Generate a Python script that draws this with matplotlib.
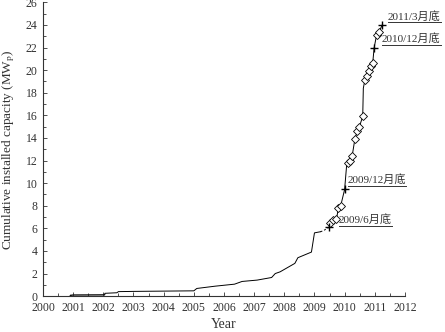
import numpy as np
import matplotlib
matplotlib.use("Agg")
import matplotlib.pyplot as plt
from matplotlib.ticker import MultipleLocator

plt.rcParams['font.family'] = ['Liberation Serif', 'Noto Sans CJK TC']
plt.rcParams['mathtext.fontset'] = 'stix'

# main cumulative curve (solid part up to early 2009)
year_a = [2000.9, 2001.0, 2002.05, 2002.05, 2002.45, 2002.5, 2003.0, 2005.0, 2005.1,
          2005.7, 2006.35, 2006.6, 2007.1, 2007.58, 2007.7, 2007.86, 2008.35, 2008.45,
          2008.9, 2009.0, 2009.2]
cap_a = [0.05, 0.1, 0.12, 0.25, 0.3, 0.4, 0.42, 0.47, 0.68,
         0.88, 1.06, 1.3, 1.42, 1.65, 2.0, 2.15, 2.9, 3.4,
         3.9, 5.6, 5.7]

# dashed gap
year_gap = [2009.2, 2009.3, 2009.49]
cap_gap = [5.7, 5.8, 6.1]

# monthly data from mid 2009
year_b = [2009.49, 2009.51, 2009.62, 2009.73, 2009.79, 2009.87, 2010.0, 2010.07, 2010.1,
          2010.18, 2010.25, 2010.34, 2010.42, 2010.49, 2010.6, 2010.62, 2010.67, 2010.75,
          2010.81, 2010.89, 2010.93, 2010.98, 2011.06, 2011.14, 2011.25]
cap_b = [6.1, 6.43, 6.73, 6.8, 7.76, 8.0, 9.44, 11.7, 11.8,
         12.0, 12.4, 13.9, 14.6, 15.0, 15.9, 18.4, 19.1, 19.5,
         19.9, 20.4, 20.6, 22.0, 23.1, 23.4, 24.0]
diamond_idx = [1, 2, 3, 4, 5, 8, 9, 10, 11, 12, 13, 14, 16, 17, 18, 19, 20, 22, 23]
plus_idx = [0, 6, 21, 24]

# milestone labels
labels = ['2009/6月底', '2009/12月底', '2010/12月底', '2011/3月底']
label_x = [2009.81, 2010.11, 2011.24, 2011.43]
label_y = [6.8, 10.3, 22.8, 24.8]

fig = plt.figure(figsize=(4.45, 3.32), dpi=100)
ax = fig.add_axes([0.0966, 0.108, 0.8134, 0.885])

ax.fill_between([2000.9, 2002.05], 0.02, 0.15, color='#b0b0b0', lw=0)
ax.plot(year_a, cap_a, color='black', lw=0.7)
ax.plot(year_gap, cap_gap, color='black', lw=0.7, dashes=(2, 2))
ax.plot(year_b, cap_b, color='black', lw=0.7)
ax.plot([year_b[i] for i in diamond_idx], [cap_b[i] for i in diamond_idx], 'D',
        ms=3.7, mfc='white', mec='black', mew=0.6, ls='none')
ax.plot([year_b[i] for i in plus_idx], [cap_b[i] for i in plus_idx], '+',
        ms=6, color='black', mew=1.0, ls='none')

texts = []
for s, x, y in zip(labels, label_x, label_y):
    texts.append(ax.text(x, y, s, fontsize=8, color='#333333', va='center', ha='left'))

ax.set_xlim(2000, 2012)
ax.set_ylim(0, 26)
ax.xaxis.set_major_locator(MultipleLocator(1))
ax.xaxis.set_minor_locator(MultipleLocator(0.5))
ax.yaxis.set_major_locator(MultipleLocator(2))
ax.yaxis.set_minor_locator(MultipleLocator(1))
ax.tick_params(which='both', direction='in', labelsize=8.5, colors='#333333', width=0.6)
ax.tick_params(which='major', length=3, pad=4)
ax.tick_params(which='minor', length=2)
for side in ['top', 'right']:
    ax.spines[side].set_visible(False)
for side in ['left', 'bottom']:
    ax.spines[side].set_linewidth(0.8)
    ax.spines[side].set_color('#333333')

ax.set_xlabel('Year', fontsize=10, color='#333333', labelpad=3)
ax.set_ylabel('Cumulative installed capacity (MW$_\\mathrm{p}$)', fontsize=9.5,
              color='#333333', labelpad=6)

# underline the milestone labels
fig.canvas.draw()
inv = ax.transData.inverted()
for t in texts:
    bb = t.get_window_extent()
    (x0, y0), (x1, y1) = inv.transform([[bb.x0, bb.y0], [bb.x1, bb.y1]])
    ax.plot([x0, x1], [y0 - 0.1, y0 - 0.1], color='#333333', lw=0.7, clip_on=False)

fig.savefig('out.png', dpi=100)
